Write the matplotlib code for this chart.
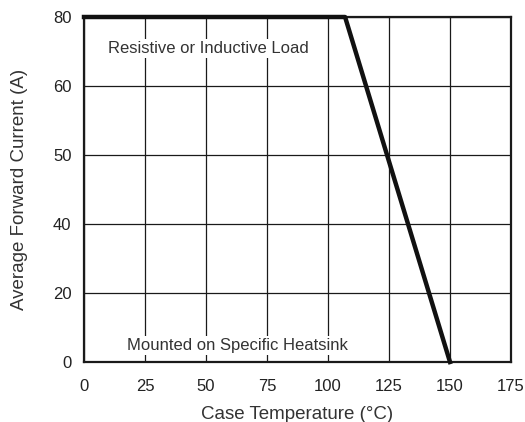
import numpy as np
import matplotlib.pyplot as plt

plt.rcParams['font.family'] = ['Liberation Sans', 'DejaVu Sans']

# derating curve
temp = [0, 107, 150]
current = [80, 80, 0]

x_ticks = [0, 25, 50, 75, 100, 125, 150, 175]
y_ticks = [0, 20, 40, 50, 60, 80]

# y axis of the datasheet has evenly spaced labels, not a linear scale
pos = np.arange(len(y_ticks))


def fwd(v):
    return np.interp(v, y_ticks, pos)


def inv(p):
    return np.interp(p, pos, y_ticks)


fig = plt.figure(figsize=(5.25, 4.22), dpi=100)
ax = fig.add_axes([84 / 525, 1 - 362 / 422, 427 / 525, 345 / 422])
ax.set_yscale('function', functions=(fwd, inv))
ax.set_xlim(0, 175)
ax.set_ylim(0, 80)
ax.set_xticks(x_ticks)
ax.set_yticks(y_ticks)
ax.set_xticklabels([str(t) for t in x_ticks])
ax.set_yticklabels([str(t) for t in y_ticks])
ax.minorticks_off()
ax.tick_params(length=0, labelsize=12, colors='#222222')
ax.tick_params(axis='x', pad=12)
ax.tick_params(axis='y', pad=9)
ax.grid(True, color='#1a1a1a', linewidth=0.9)
ax.set_axisbelow(True)
for s in ax.spines.values():
    s.set_linewidth(1.6)
    s.set_color('#1a1a1a')

ax.plot(temp, current, color='#111111', linewidth=3.2, clip_on=False, zorder=5)

box = dict(facecolor='white', edgecolor='none', pad=1.5)
ax.text(50.8, 70.8, 'Resistive or Inductive Load', ha='center', va='center',
        fontsize=12, color='#333333', bbox=box, zorder=4)
ax.text(62.7, 4.9, 'Mounted on Specific Heatsink', ha='center', va='center',
        fontsize=12, color='#333333', bbox=box, zorder=4)

ax.set_xlabel('Case Temperature (°C)', fontsize=13.5, color='#333333', labelpad=9)
ax.set_ylabel('Average Forward Current (A)', fontsize=13.5, color='#333333', labelpad=18)

fig.savefig('out.png', dpi=100)
